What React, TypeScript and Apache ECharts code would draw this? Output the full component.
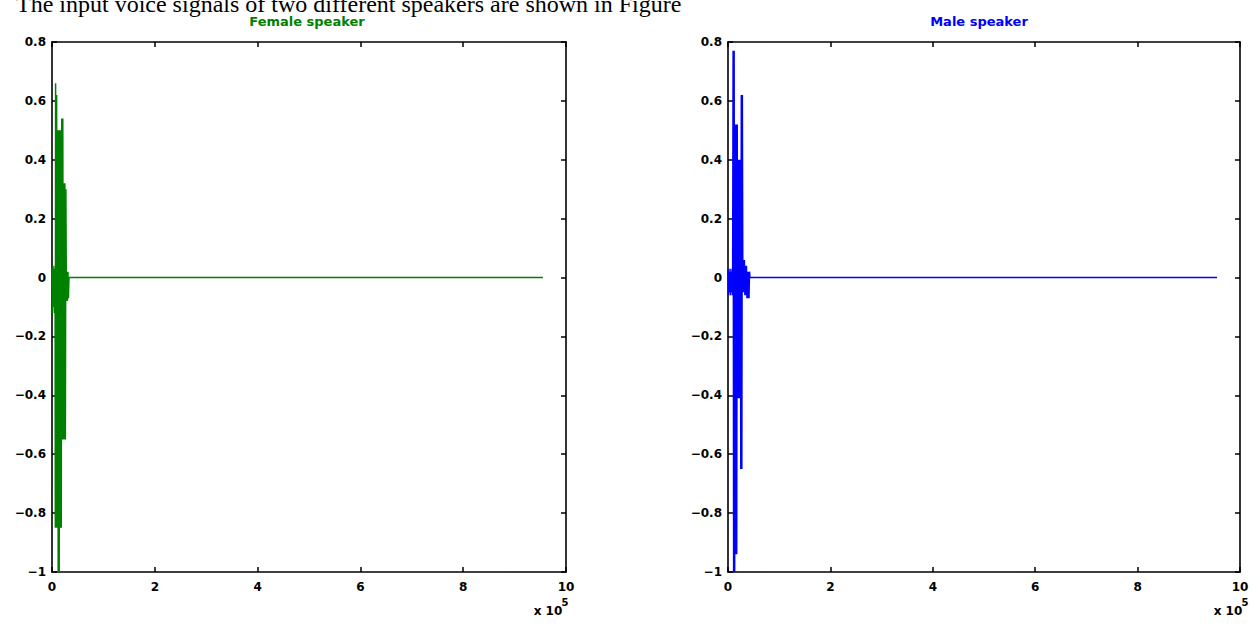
import React, { useEffect, useRef } from "react";
import * as echarts from "echarts";

const headerText = "The input voice signals of two different speakers are shown in Figure";
const panelTitles = ["Female speaker", "Male speaker"];
const lineColors = ["#008000", "#0000FF"];
const xExponent = "5";

// x in units of 10^5 samples, y amplitude (envelope)
const femaleSignal: [number, number][] = [
  [0, 0.03], [0.01, -0.12], [0.02, 0.04], [0.03, -0.1], [0.04, 0.03], [0.05, -0.12],
  [0.06, 0.04], [0.065, -0.85], [0.07, 0.66], [0.08, -0.85], [0.09, 0.62], [0.1, -0.85],
  [0.11, 0.5], [0.12, -1.0], [0.13, 0.5], [0.14, -1.0], [0.15, 0.5], [0.16, -0.85],
  [0.17, 0.5], [0.18, -0.85], [0.19, 0.54], [0.2, -0.55], [0.21, 0.54], [0.22, -0.55],
  [0.23, 0.32], [0.24, -0.55], [0.25, 0.32], [0.26, -0.55], [0.27, 0.3], [0.28, -0.08],
  [0.29, 0.02], [0.3, -0.08], [0.31, 0.02], [0.32, -0.07], [0.33, 0], [9.55, 0],
];

const maleSignal: [number, number][] = [
  [0, 0.03], [0.01, -0.06], [0.02, 0.02], [0.03, -0.05], [0.04, 0.03], [0.05, -0.06],
  [0.06, 0.02], [0.07, -0.05], [0.08, 0.03], [0.09, -0.06], [0.1, 0.77], [0.11, -1.0],
  [0.12, 0.77], [0.13, -1.0], [0.14, 0.52], [0.15, -0.94], [0.16, 0.52], [0.17, -0.94],
  [0.18, 0.52], [0.19, -0.41], [0.2, 0.4], [0.21, -0.41], [0.22, 0.4], [0.23, -0.41],
  [0.24, 0.4], [0.25, -0.65], [0.26, 0.62], [0.27, -0.65], [0.28, 0.62], [0.29, -0.05],
  [0.3, 0.06], [0.31, -0.05], [0.32, 0.06], [0.33, -0.06], [0.34, 0.04], [0.35, -0.06],
  [0.36, 0.04], [0.37, -0.07], [0.38, 0.02], [0.39, -0.07], [0.4, 0.02], [0.41, -0.07],
  [0.42, 0.02], [0.43, 0], [9.55, 0],
];

const signals = [femaleSignal, maleSignal];

const fmtY = (v: number) => {
  const r = parseFloat(v.toFixed(1));
  return r < 0 ? "\u2212" + String(Math.abs(r)) : String(r);
};

export default function App() {
  const ref = useRef<HTMLDivElement>(null);
  useEffect(() => {
    const chart = echarts.init(ref.current!, null, { renderer: "svg" });
    const grids = [
      { left: 52, top: 42, width: 514, height: 530 },
      { left: 728, top: 42, width: 512, height: 530 },
    ];
    const axisLine = { show: true, onZero: false, lineStyle: { color: "#000", width: 1.6 } };
    const axisTick = { show: true, inside: true, length: 5, lineStyle: { color: "#000", width: 1.5 } };
    const labelStyle = {
      color: "#000",
      fontFamily: "DejaVu Sans",
      fontWeight: "bold" as const,
      fontSize: 12,
    };
    const xAxis: any[] = [];
    const yAxis: any[] = [];
    grids.forEach((_, i) => {
      xAxis.push({
        type: "value", gridIndex: i, min: 0, max: 10, interval: 2, position: "bottom",
        axisLine, axisTick, splitLine: { show: false },
        axisLabel: { ...labelStyle, margin: 9 },
      });
      xAxis.push({
        type: "value", gridIndex: i, min: 0, max: 10, interval: 2, position: "top",
        axisLine, axisTick, splitLine: { show: false }, axisLabel: { show: false },
      });
      yAxis.push({
        type: "value", gridIndex: i, min: -1, max: 0.8, interval: 0.2, position: "left",
        axisLine, axisTick, splitLine: { show: false },
        axisLabel: { ...labelStyle, margin: 6, formatter: fmtY },
      });
      yAxis.push({
        type: "value", gridIndex: i, min: -1, max: 0.8, interval: 0.2, position: "right",
        axisLine, axisTick, splitLine: { show: false }, axisLabel: { show: false },
      });
    });
    const series = signals.map((d, i) => ({
      type: "line",
      xAxisIndex: i * 2,
      yAxisIndex: i * 2,
      data: d,
      showSymbol: false,
      symbol: "none",
      lineStyle: { color: lineColors[i], width: 1.5 },
      itemStyle: { color: lineColors[i] },
    }));
    const graphic: any[] = [
      {
        type: "text", x: 16, y: -3,
        style: { text: headerText, font: '24px "Liberation Serif"', lineHeight: 14, fill: "#000" },
      },
    ];
    const titleX = [307, 979];
    panelTitles.forEach((t, i) => {
      graphic.push({
        type: "text", x: titleX[i], y: 21,
        style: { text: t, font: 'bold 13px "DejaVu Sans"', lineHeight: 12, fill: lineColors[i], align: "center", verticalAlign: "middle" },
      });
    });
    const expX = [548, 1228];
    expX.forEach((x) => {
      graphic.push({
        type: "text", x, y: 611,
        style: { text: "x 10", font: 'bold 12px "DejaVu Sans"', fill: "#000", align: "center", verticalAlign: "middle" },
      });
      graphic.push({
        type: "text", x: x + 17, y: 602,
        style: { text: xExponent, font: 'bold 10px "DejaVu Sans"', fill: "#000", align: "center", verticalAlign: "middle" },
      });
    });
    chart.setOption({
      animation: false,
      backgroundColor: "#fff",
      grid: grids,
      xAxis,
      yAxis,
      series,
      graphic,
    });
    return () => chart.dispose();
  }, []);
  return (
    <div
      ref={ref}
      style={{ position: "fixed", left: 0, top: 0, width: 1254, height: 625, background: "#fff" }}
    />
  );
}
